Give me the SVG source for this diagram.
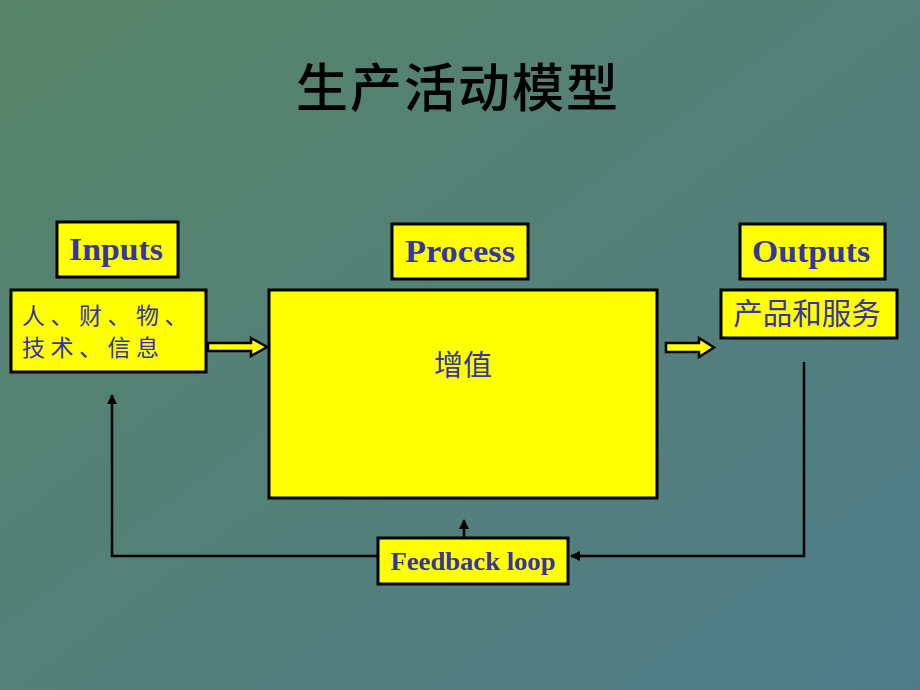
<svg xmlns="http://www.w3.org/2000/svg" width="920" height="690" viewBox="0 0 920 690">
<defs>
<linearGradient id="bg" x1="0" y1="0" x2="1" y2="1">
<stop offset="0" stop-color="#568467"/>
<stop offset="1" stop-color="#507C8A"/>
</linearGradient>
<marker id="ah" viewBox="0 0 10 10" refX="9" refY="5" markerWidth="4" markerHeight="4" orient="auto" markerUnits="strokeWidth">
<path d="M0,0 L10,5 L0,10 z" fill="#000"/>
</marker>
<style>
.box{fill:#FFFF00;stroke:#000;stroke-width:3}
.lbl{font-family:"Liberation Serif","Times New Roman",serif;font-weight:bold;fill:#3535A5;text-anchor:middle}
.cn{font-family:"Noto Sans CJK SC","Noto Sans CJK JP",sans-serif;fill:#3535A5}
.ln{fill:none;stroke:#000;stroke-width:2.5}
.blk{fill:#FFFF00;stroke:#000;stroke-width:2.5;stroke-linejoin:miter}
</style>
</defs>
<rect width="920" height="690" fill="url(#bg)"/>
<text x="458" y="107" font-family="Noto Sans CJK SC, sans-serif" font-size="52" font-weight="500" fill="#000" text-anchor="middle" letter-spacing="2">生产活动模型</text>

<g id="inputs-label">
<rect class="box" x="57" y="222" width="121" height="55"/>
<text class="lbl" x="116" y="260" font-size="32" textLength="94" lengthAdjust="spacingAndGlyphs">Inputs</text>
</g>
<g id="inputs">
<rect class="box" x="11" y="290" width="195" height="82"/>
<text class="cn" font-size="23" letter-spacing="5.5"><tspan x="22" y="324">人、财、物、</tspan><tspan x="22" y="356">技术、信息</tspan></text>
</g>
<g id="process-label">
<rect class="box" x="392" y="224" width="136" height="55"/>
<text class="lbl" x="460" y="262" font-size="32" textLength="110" lengthAdjust="spacingAndGlyphs">Process</text>
</g>
<g id="process">
<rect class="box" x="269" y="290" width="388" height="208"/>
<text class="cn" x="463" y="376" text-anchor="middle" font-size="29">增值</text>
</g>
<g id="outputs-label">
<rect class="box" x="740" y="224" width="145" height="55"/>
<text class="lbl" x="811" y="262" font-size="32" textLength="118" lengthAdjust="spacingAndGlyphs">Outputs</text>
</g>
<g id="outputs">
<rect class="box" x="721" y="290" width="176" height="48"/>
<text class="cn" x="807" y="324" text-anchor="middle" font-size="29.5">产品和服务</text>
</g>
<g id="feedback">
<rect class="box" x="378" y="538" width="190" height="46"/>
<text class="lbl" x="473" y="570" font-size="26" textLength="165" lengthAdjust="spacingAndGlyphs">Feedback loop</text>
</g>

<g id="connectors">
<path class="blk" d="M208,343 L251,343 L251,338 L267,347 L251,356 L251,351 L208,351 Z"/>
<path class="blk" d="M666,343 L699,343 L699,338 L714,347.5 L699,357 L699,352 L666,352 Z"/>
<path class="ln" d="M378,556 L112,556 L112,395" marker-end="url(#ah)"/>
<path class="ln" d="M804,362 L804,556 L571,556" marker-end="url(#ah)"/>
<path class="ln" d="M464,538 L464,520" marker-end="url(#ah)"/>
</g>
</svg>
